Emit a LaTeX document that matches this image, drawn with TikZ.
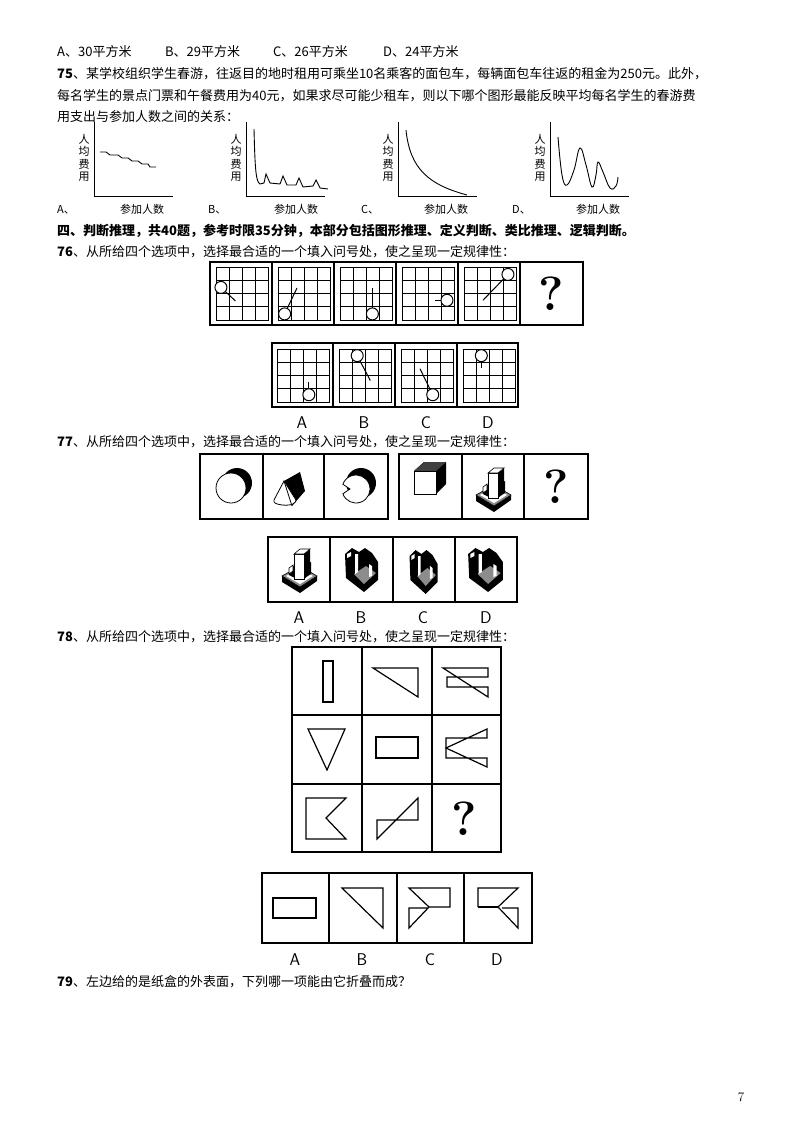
\documentclass[tikz,border=0pt]{standalone}
\usepackage{fontspec}
\newfontfamily\cjk{Noto Sans CJK SC}
\begin{document}
\begin{tikzpicture}[x=1pt,y=-1pt,
  txt/.style={anchor=base west,inner sep=0pt,font=\cjk\fontsize{13}{15}\selectfont},
  btxt/.style={txt,font=\cjk\bfseries\fontsize{13}{15}\selectfont},
  ylab/.style={inner sep=0pt,align=center,font=\cjk\fontsize{11}{12.5}\selectfont},
  glab/.style={anchor=base west,inner sep=0pt,font=\cjk\fontsize{11}{13}\selectfont},
  optlab/.style={inner sep=0pt,font=\sffamily\fontsize{17}{18}\selectfont},
  qm/.style={inner sep=0pt,font=\bfseries\fontsize{48}{48}\selectfont},
  frame/.style={draw,line width=1.3pt},
  thin/.style={line width=0.9pt},
  curve/.style={line width=0.9pt}]
\useasboundingbox (0,0) rectangle (800,1132);
\fill[white] (0,0) rectangle (800,1132);
% ---- text ----
\node[txt] (t1a) at (57,57) {A、30平方米};
\node[txt] (t1b) at (165,57) {B、29平方米};
\node[txt] (t1c) at (273,57) {C、26平方米};
\node[txt] (t1d) at (383,57) {D、24平方米};
\node[txt] (t2) at (57,78) {\textbf{75}、某学校组织学生春游，往返目的地时租用可乘坐10名乘客的面包车，每辆面包车往返的租金为250元。此外，};
\node[txt] (t3) at (57,100) {每名学生的景点门票和午餐费用为40元，如果求尽可能少租车，则以下哪个图形最能反映平均每名学生的春游费};
\node[txt] (t4) at (57,121) {用支出与参加人数之间的关系：};
% ---- graphs ----
\foreach \ax/\ex/\lx/\ll/\cx/\nm in {94/173/84/57/142/A,246/325/236/208/296/B,398/477/388/361/446/C,550/629/540/512/598/D}{
  \draw[thin] (\ax,122) -- (\ax,196) -- (\ex,196);
  \node[ylab] (yl\nm) at (\lx,158) {人\\均\\费\\用};
  \node[glab] (gl\nm) at (\ll,213) {\nm、};
  \node[glab,anchor=base] (gx\nm) at (\cx,213) {参加人数};
}
\draw[curve] (100,152)--(106,152)--(110,155)--(118,155)--(122,158)--(128,158)--(132,161)--(138,161)--(142,164)--(148,164)--(150,167)--(156,167);
\draw[curve] (254,129) .. controls (255,170) and (256,182) .. (260,184) -- (264,183) -- (266,174) -- (270,183) -- (280,184) -- (283,176) -- (287,185) -- (296,185) -- (299,178) -- (303,187) -- (313,186) -- (316,180) -- (320,188) -- (328,189);
\draw[curve] (406,130) .. controls (410,170) and (430,185) .. (467,195);
\draw[curve] plot[smooth,tension=0.7] coordinates {(558,137) (562,175) (567,185) (574,170) (580,148) (586,165) (592,187) (596,175) (598,162) (603,172) (610,188) (616,186) (618,177)};
% ---- section header ----
\node[btxt] (h4) at (57,235) {四、判断推理，共40题，参考时限35分钟，本部分包括图形推理、定义判断、类比推理、逻辑判断。};
\node[txt] (q76) at (57,256) {\textbf{76}、从所给四个选项中，选择最合适的一个填入问号处，使之呈现一定规律性：};
% ---- Q76 ----
\draw[frame] (210,262) rectangle (583,325);
\foreach \x in {272,334,396,458,520} \draw[frame] (\x,262) -- (\x,325);
\foreach \gx in {216,278,340,402,464}{
  \draw[thin] (\gx,267) rectangle ++(52,53);
  \foreach \i in {1,2,3} {\draw[thin] (\gx+13*\i,267) -- ++(0,53); \draw[thin] (\gx,267+13.25*\i) -- ++(52,0);}
}
\foreach \gx/\cxx/\cyy/\lxx/\lyy in {216/0.38/1.54/1.49/2.56, 278/0.51/3.54/1.46/1.59, 340/2.49/3.54/2.49/1.59, 402/3.46/2.51/2.51/2.51, 464/3.38/0.56/1.46/2.51}{
  \draw[line width=1pt] (\gx+13*\cxx,267+13.25*\cyy) -- (\gx+13*\lxx,267+13.25*\lyy);
  \draw[line width=1pt,fill=white] (\gx+13*\cxx,267+13.25*\cyy) circle (6);
}
\node[qm] (q76q) at (551,294) {?};
\draw[frame] (272,343) rectangle (518,407);
\foreach \x in {333,395,457} \draw[frame] (\x,343) -- (\x,407);
\foreach \gx in {277,339,401,463}{
  \draw[thin] (\gx,349) rectangle ++(52,53);
  \foreach \i in {1,2,3} {\draw[thin] (\gx+13*\i,349) -- ++(0,53); \draw[thin] (\gx,349+13.25*\i) -- ++(52,0);}
}
\foreach \gx/\cxx/\cyy/\lxx/\lyy in {277/2.45/3.45/2.45/2.5, 339/1.4/0.5/2.41/2.38, 401/2.44/3.45/1.46/1.49, 463/1.41/0.5/1.41/1.44}{
  \draw[line width=1pt] (\gx+13*\cxx,349+13.25*\cyy) -- (\gx+13*\lxx,349+13.25*\lyy);
  \draw[line width=1pt,fill=white] (\gx+13*\cxx,349+13.25*\cyy) circle (6);
}
\node[optlab] (o76a) at (302,423) {A};
\node[optlab] (o76b) at (364,423) {B};
\node[optlab] (o76c) at (426,423) {C};
\node[optlab] (o76d) at (488,423) {D};
% ---- Q77 ----
\node[txt] (q77) at (57,446) {\textbf{77}、从所给四个选项中，选择最合适的一个填入问号处，使之呈现一定规律性：};
\draw[frame] (200,454) rectangle (388,519);
\draw[frame] (263,454) -- (263,519);
\draw[frame] (324,454) -- (324,519);
\draw[frame] (399,454) rectangle (588,519);
\draw[frame] (462,454) -- (462,519);
\draw[frame] (524,454) -- (524,519);
% circle with crescent
\fill[black] (237,483) circle (15);
\draw[line width=0.8pt,fill=white] (231,488) circle (15);
% cone
\fill[black] (284,481) -- (300,472) -- (305,491) -- (292,506) -- cycle;
\draw[line width=0.8pt,fill=white] (284,481) -- (296,500) .. controls (296,503) and (292,506) .. (282,505) .. controls (276,504) and (273,503) .. (274,500) -- cycle;
\draw[line width=0.8pt] (284,481) -- (292,506);
% pacman
\fill[black] (361,483) circle (15);
\draw[line width=0.8pt,fill=white] (356,489) ++(160:14) arc[start angle=160,end angle=-160,radius=14] -- (350,489) -- cycle;
% cube
\fill[black] (414,471) -- (424,462) -- (446,462) -- (446,484) -- (436,494) -- (436,471) -- cycle;
\fill[black!75] (414,471) -- (424,462) -- (446,462) -- (436,471) -- cycle;
\draw[line width=0.8pt,fill=white] (414,471) rectangle (436,494);
% generic block shapes
\newcommand{\towerblock}[2]{%
  \begin{scope}[shift={(#1,#2)}]
  \fill[black] (-17,8) -- (1,19) -- (18,8) -- (18,13) -- (1,25) -- (-17,14) -- cycle;
  \draw[line width=0.6pt,fill=black!45] (-17,8) -- (1,-2) -- (18,8) -- (1,19) -- cycle;
  \fill[white] (-13,8) -- (1,0) -- (14,8) -- (1,16) -- cycle;
  \fill[black] (-10,0) -- (-4,-3) -- (-4,10) -- (-10,7) -- cycle;
  \fill[black] (5,-2) -- (12,-6) -- (12,6) -- (5,10) -- cycle;
  \draw[line width=0.6pt,fill=white] (-5,-14) rectangle (5,11);
  \fill[black] (5,-14) -- (11,-19) -- (11,6) -- (5,11) -- cycle;
  \draw[line width=0.6pt,fill=white] (-5,-14) -- (1,-19) -- (11,-19) -- (5,-14) -- cycle;
  \draw[line width=0.6pt,fill=white] (-10,0) -- (-6,-3) -- (-6,3) -- (-10,6) -- cycle;
  \end{scope}}
\newcommand{\roomblock}[3]{%
  \begin{scope}[shift={(#1,#2)},xscale=#3]
  \fill[black] (-17,-14) -- (-10,-20) -- (-3,-16) -- (3,-20) -- (10,-15) -- (16,-6) -- (16,12) -- (2,24) -- (-16,10) -- cycle;
  \fill[black!45] (-8,6) -- (4,-2) -- (14,5) -- (2,16) -- cycle;
  \fill[white] (-7,-14) -- (-4,-14) -- (-4,4) -- (-7,6) -- cycle;
  \fill[white] (7,-4) -- (10,-2) -- (10,8) -- (7,9) -- cycle;
  \fill[white] (-15,-14) -- (-11,-16) -- (-11,-12) -- (-15,-10) -- cycle;
  \end{scope}}
\towerblock{493}{487}
\node[qm] (q77q) at (556,487) {?};
\draw[frame] (268,537) rectangle (517,602);
\foreach \x in {330,393,455} \draw[frame] (\x,537) -- (\x,602);
\towerblock{299}{568}
\roomblock{362}{568}{1}
\roomblock{424}{570}{0.85}
\roomblock{486}{568}{1.05}
\node[optlab] (o77a) at (299,618) {A};
\node[optlab] (o77b) at (361,618) {B};
\node[optlab] (o77c) at (423,618) {C};
\node[optlab] (o77d) at (486,618) {D};
% ---- Q78 ----
\node[txt] (q78) at (57,641) {\textbf{78}、从所给四个选项中，选择最合适的一个填入问号处，使之呈现一定规律性：};
\draw[frame] (292,647) rectangle (501,852);
\foreach \x in {362,432} \draw[frame] (\x,647) -- (\x,852);
\foreach \y in {715,784} \draw[frame] (292,\y) -- (501,\y);
\begin{scope}[line width=1.2pt,line join=miter]
\draw (323,661) rectangle (333,702);
\draw (373,668) -- (418,668) -- (418,697) -- cycle;
\draw (443,668) -- (488,668) -- (488,677) -- (447,677) -- (447,687) -- (488,687) -- (488,697) -- cycle;
\draw (308,729) -- (345,729) -- (327,770) -- cycle;
\draw (376,737) rectangle (418,758);
\draw (487,729) -- (487,738) -- (446,738) -- (446,758) -- (487,758) -- (487,767) -- (446,748) -- cycle;
\draw (306,798) -- (346,798) -- (326,818) -- (346,839) -- (306,839) -- cycle;
\draw (377,820) -- (418,820) -- (418,798) -- (377,839) -- cycle;
\end{scope}
\node[qm] (q78q) at (464,819) {?};
\draw[frame] (262,873) rectangle (532,943);
\foreach \x in {329,397,464} \draw[frame] (\x,873) -- (\x,943);
\begin{scope}[line width=1.2pt,line join=miter]
\draw (273,898) rectangle (316,918);
\draw (342,888) -- (383,888) -- (383,928) -- cycle;
\draw (427,908) -- (409,908) -- (409,928) -- (429,907) -- (409,888) -- (450,888) -- (450,907) -- (429,907);
\draw (478,907) -- (478,888) -- (518,888) -- (498,907) -- (518,928) -- (518,908) -- (502,908);
\draw (478,907) -- (498,907);
\end{scope}
\node[optlab] (o78a) at (295,960) {A};
\node[optlab] (o78b) at (362,960) {B};
\node[optlab] (o78c) at (430,960) {C};
\node[optlab] (o78d) at (497,960) {D};
% ---- Q79 ----
\node[txt] (q79) at (57,986) {\textbf{79}、左边给的是纸盒的外表面，下列哪一项能由它折叠而成？};
\node[inner sep=0pt,font=\fontsize{13}{14}\selectfont] (pg) at (741,1097) {7};
\end{tikzpicture}
\end{document}
